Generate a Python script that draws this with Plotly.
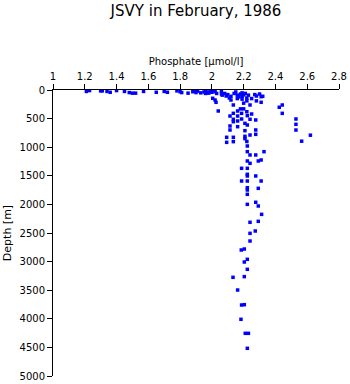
import plotly.graph_objects as go

title_text = "JSVY in February, 1986"
x_title = "Phosphate [\u00b5mol/l]"
y_title = "Depth [m]"

phosphate = [
    # surface
    1.21, 1.23, 1.30, 1.31, 1.34, 1.36, 1.40, 1.45, 1.48, 1.50, 1.52, 1.57, 1.65, 1.70, 1.72,
    1.78, 1.80, 1.81, 1.85, 1.88, 1.89, 1.90, 1.91, 1.93, 1.95, 1.96, 1.96, 1.97, 1.98, 1.99,
    2.00, 2.01, 2.02, 2.03,
    # near-surface cluster
    2.005, 2.02, 2.026, 2.04, 2.06, 2.06, 2.065, 2.08, 2.09, 2.10, 2.11, 2.12, 2.12, 2.135,
    2.14, 2.15, 2.16, 2.16, 2.17, 2.18, 2.19, 2.19, 2.19, 2.20, 2.20, 2.21, 2.22, 2.22, 2.23,
    2.24, 2.25, 2.27, 2.28, 2.28, 2.30, 2.31, 2.31, 2.32,
    # 300-1000 m
    2.114, 2.135, 2.135, 2.135, 2.114, 2.114, 2.093, 2.093, 2.135, 2.135, 2.162, 2.162, 2.162,
    2.162, 2.187, 2.187, 2.208, 2.208, 2.208, 2.208, 2.22, 2.223, 2.223, 2.223, 2.24, 2.24,
    2.276, 2.276, 2.276, 2.424, 2.443, 2.443, 2.529, 2.529, 2.529, 2.62, 2.565, 2.20, 2.22,
    2.18, 2.25,
    # deep
    2.223, 2.24, 2.276, 2.328, 2.223, 2.24, 2.292, 2.31, 2.187, 2.223, 2.223, 2.223, 2.276,
    2.187, 2.223, 2.31, 2.223, 2.223, 2.292, 2.223, 2.223, 2.276, 2.292, 2.313, 2.292, 2.24,
    2.273, 2.24, 2.24, 2.204, 2.185, 2.223, 2.204, 2.223, 2.204, 2.133, 2.162, 2.187, 2.204,
    2.183, 2.21, 2.23, 2.223,
]

depth = [
    # surface
    25, 10, 15, 15, 25, 40, 10, 25, 45, 55, 55, 25, 40, 25, 40,
    15, 30, 45, 55, 30, 15, 45, 20, 50, 35, 15, 60, 35, 55, 20,
    40, 10, 30, 60,
    # near-surface cluster
    145, 175, 215, 367, 20, 70, 90, 60, 105, 80, 140, 175, 110, 262,
    60, 35, 90, 150, 120, 70, 50, 110, 160, 230, 85, 60, 140, 190, 90,
    262, 150, 80, 105, 190, 70, 117, 215, 110,
    # 300-1000 m
    455, 408, 512, 554, 629, 699, 827, 915, 827, 903, 367, 455, 542,
    641, 408, 507, 583, 711, 810, 850, 900, 612, 449, 979, 512, 787,
    524, 699, 775, 302, 262, 408, 507, 600, 700, 790, 895, 330, 380,
    330, 420,
    # deep
    1078, 1136, 1136, 1078, 1241, 1282, 1241, 1224, 1369, 1369, 1474, 1503, 1503,
    1591, 1591, 1591, 1708, 1748, 1719, 1824, 1999, 1963, 2028, 2174, 2296, 2313,
    2465, 2506, 2640, 2780, 2797, 2960, 3007, 3135, 3263, 3275, 3497, 3759, 3753,
    4009, 4254, 4254, 4516,
]

x_ticks = [1, 1.2, 1.4, 1.6, 1.8, 2, 2.2, 2.4, 2.6, 2.8]
x_tick_labels = ["1", "1.2", "1.4", "1.6", "1.8", "2", "2.2", "2.4", "2.6", "2.8"]
y_ticks = [0, 500, 1000, 1500, 2000, 2500, 3000, 3500, 4000, 4500, 5000]
y_tick_labels = [str(v) for v in y_ticks]

fig = go.Figure()
fig.add_trace(go.Scatter(
    x=phosphate, y=depth, mode="markers",
    marker=dict(symbol="square", size=3.5, color="#0000ff", line=dict(width=0)),
    showlegend=False,
))

font_family = "DejaVu Sans, sans-serif"
fig.update_layout(
    width=350, height=384,
    margin=dict(l=53, r=11, t=90, b=8, autoexpand=False),
    paper_bgcolor="white", plot_bgcolor="white",
    font=dict(family=font_family, size=10, color="black"),
    title=dict(text=title_text, xref="paper", x=0.5, xanchor="center",
               yref="container", y=0.985, yanchor="top",
               font=dict(size=15, family=font_family, color="black")),
    xaxis=dict(
        side="top", range=[1, 2.8], tickvals=x_ticks, ticktext=x_tick_labels,
        ticks="outside", ticklen=5, tickwidth=1, tickcolor="black",
        showline=True, linecolor="black", linewidth=1, showgrid=False, zeroline=False,
        automargin=False,
        title=dict(text=x_title, font=dict(size=10), standoff=3),
        tickfont=dict(size=10),
    ),
    yaxis=dict(
        range=[5000, 0], tickvals=y_ticks, ticktext=y_tick_labels,
        ticks="outside", ticklen=5, tickwidth=1, tickcolor="black",
        showline=True, linecolor="black", linewidth=1, showgrid=False, zeroline=False,
        automargin=False,
        title=dict(text=y_title, font=dict(size=11), standoff=5),
        tickfont=dict(size=10),
    ),
)

fig.write_html("out.html")
